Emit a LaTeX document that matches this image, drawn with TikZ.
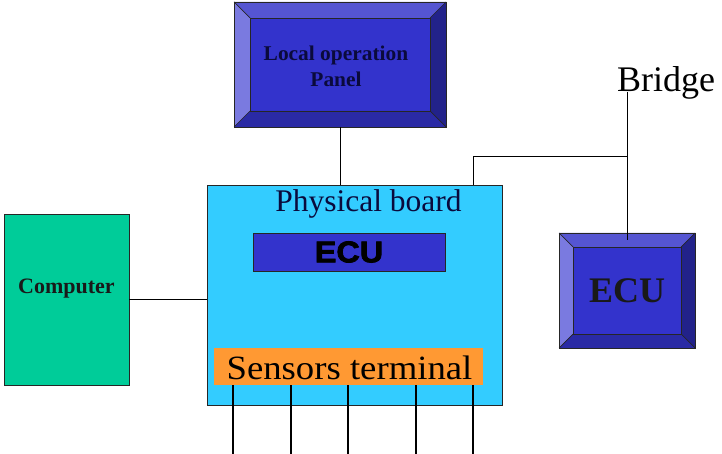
\documentclass[tikz,border=0pt]{standalone}
\usepackage{fontspec}
\setmainfont{Liberation Serif}
\newfontfamily\timesrm{Liberation Serif}
\newfontfamily\heavysans[FakeBold=2.5]{Liberation Sans Bold}
\usetikzlibrary{calc}
\definecolor{faceblue}{RGB}{51,51,204}
\definecolor{bvtopc}{RGB}{85,85,210}
\definecolor{bvleftc}{RGB}{122,122,224}
\definecolor{bvrightc}{RGB}{34,34,138}
\definecolor{bvbotc}{RGB}{42,42,165}
\definecolor{boardc}{RGB}{51,204,255}
\definecolor{orangec}{RGB}{255,153,51}
\definecolor{greenc}{RGB}{0,204,153}
\definecolor{navytext}{RGB}{10,10,60}
\newcommand{\bevelbox}[2]{%
  \fill[bvtopc] (#1.north west) -- (#1.north east) -- ([shift={(-#2pt,-#2pt)}]#1.north east) -- ([shift={(#2pt,-#2pt)}]#1.north west) -- cycle;
  \fill[bvleftc] (#1.north west) -- ([shift={(#2pt,-#2pt)}]#1.north west) -- ([shift={(#2pt,#2pt)}]#1.south west) -- (#1.south west) -- cycle;
  \fill[bvrightc] (#1.north east) -- (#1.south east) -- ([shift={(-#2pt,#2pt)}]#1.south east) -- ([shift={(-#2pt,-#2pt)}]#1.north east) -- cycle;
  \fill[bvbotc] (#1.south west) -- ([shift={(#2pt,#2pt)}]#1.south west) -- ([shift={(-#2pt,#2pt)}]#1.south east) -- (#1.south east) -- cycle;
  \draw[bvline] (#1.north west) rectangle (#1.south east);
  \draw[bvline] ([shift={(#2pt,-#2pt)}]#1.north west) rectangle ([shift={(-#2pt,#2pt)}]#1.south east);
  \draw[bvline] (#1.north west) -- ([shift={(#2pt,-#2pt)}]#1.north west);
  \draw[bvline] (#1.north east) -- ([shift={(-#2pt,-#2pt)}]#1.north east);
  \draw[bvline] (#1.south west) -- ([shift={(#2pt,#2pt)}]#1.south west);
  \draw[bvline] (#1.south east) -- ([shift={(-#2pt,#2pt)}]#1.south east);
}
\begin{document}
\begin{tikzpicture}[x=1pt,y=-1pt,
  bvline/.style={draw=black!85, line width=0.7pt},
  conn/.style={draw=black, line width=1pt},
  pin/.style={draw=black, line width=#1},
  bevelnode/.style={rectangle, fill=faceblue, inner sep=0pt, outer sep=0pt},
  plainbox/.style={rectangle, draw=black!85, line width=0.8pt, inner sep=0pt, outer sep=0pt}]
\useasboundingbox (0,0) rectangle (722,454);
\fill[white] (0,0) rectangle (722,454);

% boxes
\node[plainbox, fill=boardc, minimum width=295pt, minimum height=220pt] (board) at (354.5,295) {};
\node[plainbox, fill=faceblue, minimum width=192pt, minimum height=38pt,
      font=\heavysans\fontsize{30}{32}\selectfont, text=black] (ecuin) at (349,252) {\scalebox{1.08}[1]{ECU}};
\node[rectangle, fill=orangec, inner sep=0pt, minimum width=269pt, minimum height=37pt] (sensors) at (348.5,366.5) {};
\node[anchor=base, inner sep=0pt, text=black, font=\timesrm] (senstext) at (349.5,379)
      {\scalebox{1.08}[1]{\fontsize{34}{40}\selectfont Sensors terminal}};
\node[anchor=base, inner sep=0pt, font=\timesrm\fontsize{31.5}{36}\selectfont, text=navytext] (boardlabel) at (368.5,212) {Physical board};

\node[plainbox, fill=greenc, minimum width=125pt, minimum height=171pt,
      font=\timesrm\bfseries\fontsize{22}{26}\selectfont, text=black!90] (computer) at (66.5,299.5) {\raisebox{26pt}{Computer}};

\node[bevelnode, minimum width=212pt, minimum height=125pt] (lop) at (340,64.5) {};
\bevelbox{lop}{16}
\node[align=center, inner sep=0pt, font=\timesrm\bfseries\fontsize{21}{26}\selectfont, text=navytext] (loptext) at (336,66)
      {\scalebox{1.02}[1]{Local operation}\\\scalebox{1.02}[1]{Panel}};

\node[bevelnode, minimum width=136pt, minimum height=115pt] (ecu2) at (627,290.5) {};
\bevelbox{ecu2}{14}
\node[inner sep=0pt, font=\timesrm\bfseries\fontsize{36}{40}\selectfont, text=black!90] (ecu2text) at (627,291) {ECU};

\node[anchor=base west, inner sep=0pt, font=\timesrm\fontsize{36}{40}\selectfont] (bridge) at (617,92) {Bridge};

% connectors
\draw[conn] (lop.south) -- (lop.south |- board.north);
\draw[conn] (computer.east) -- (computer.east -| board.west);
\coordinate (j1) at (473,157);
\coordinate (j2) at (ecu2.north |- j1);
\coordinate (bt) at (ecu2.north |- bridge.base);
\draw[conn] (j1 |- board.north) -- (j1) -- (j2);
\draw[conn] (bt) -- ([yshift=-7pt]ecu2.north);

% sensor pins
\foreach \x/\w in {233/1.8pt,291/2.8pt,348/1.8pt,416/2.8pt,473/2pt}
  \draw[pin=\w] (sensors.south -| \x,0) -- (\x,454);
\end{tikzpicture}
\end{document}
